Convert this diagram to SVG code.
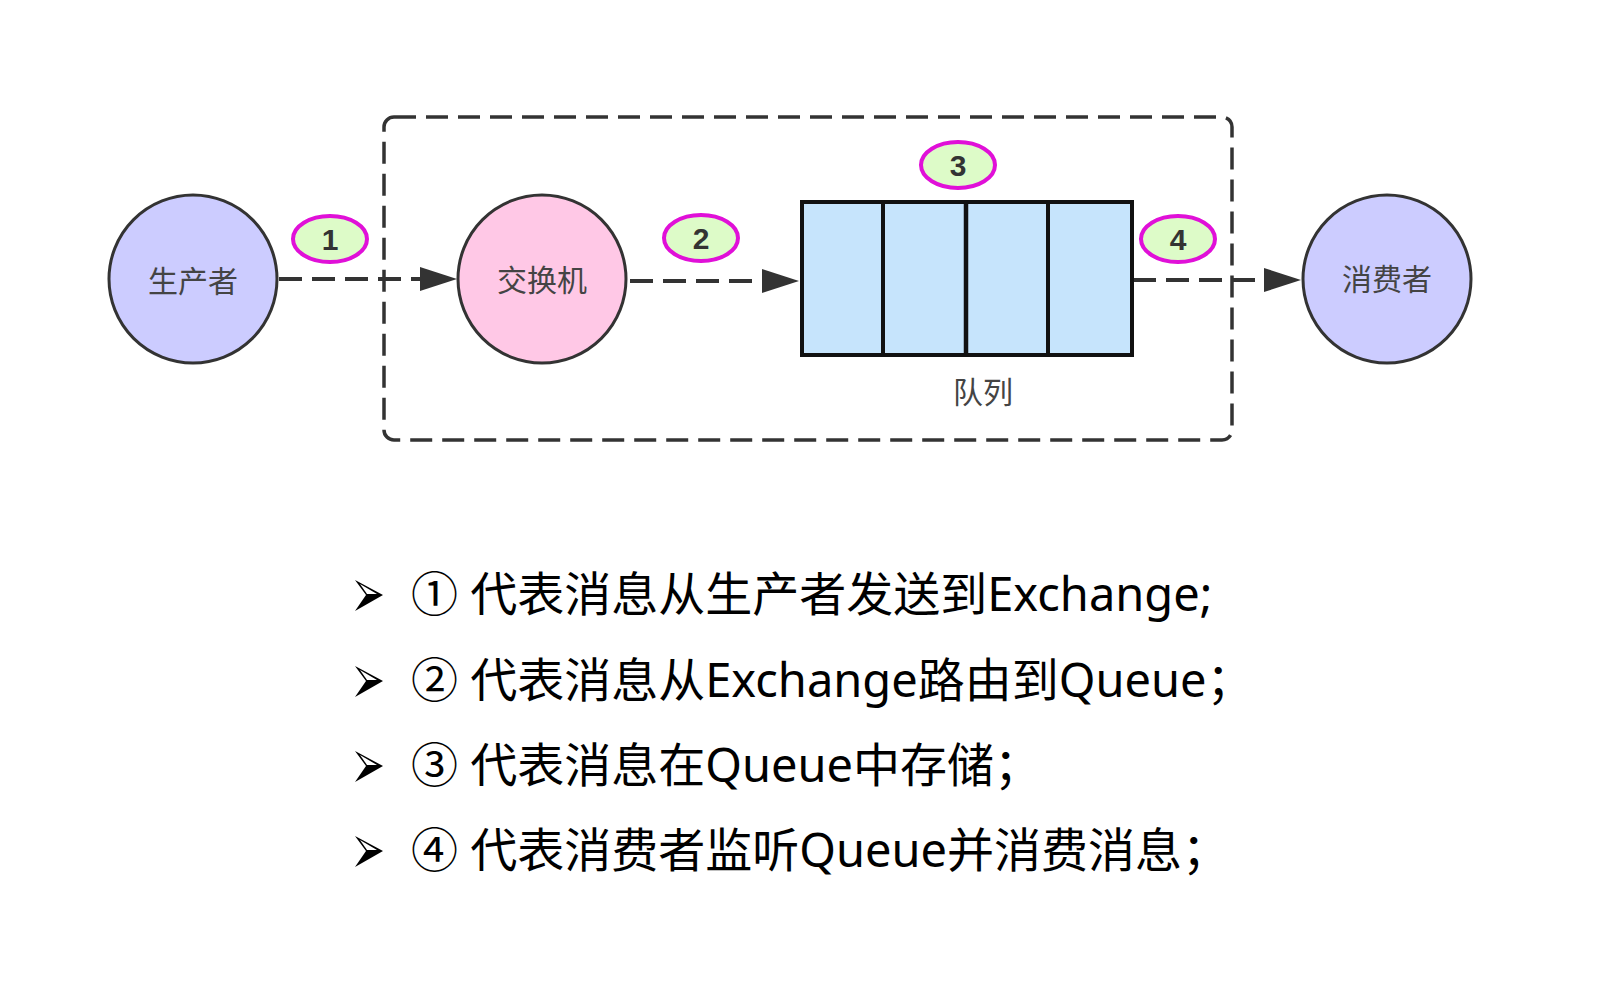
<svg xmlns="http://www.w3.org/2000/svg" width="1612" height="986" viewBox="0 0 1612 986">
<style>
.node{stroke:#333;stroke-width:3}
.lbl{font-family:"Noto Sans CJK SC","Noto Sans",sans-serif;font-size:30px;fill:#444;text-anchor:middle}
.badge{fill:#ddfbc8;stroke:#e010d8;stroke-width:4}
.num{font-family:"Liberation Sans","Noto Sans",sans-serif;font-size:30px;font-weight:bold;fill:#333;text-anchor:middle}
.conn{fill:none;stroke:#333;stroke-width:4;stroke-dasharray:23 10}
.line{font-family:"Noto Sans","Noto Sans CJK SC",sans-serif;font-size:47px;fill:#000}
</style>
<defs>
<marker id="arr" markerUnits="userSpaceOnUse" markerWidth="37" markerHeight="26" refX="0" refY="13" orient="auto" overflow="visible">
<path d="M0,1 L37,13 L0,25 Z" fill="#333"/>
</marker>
<g id="bullet">
<path d="M0,0 L28,15 L0,31 L11,15 Z" fill="#000"/>
<path d="M5,4 L22,14 L12,14 Z" fill="#fff"/>
</g>
</defs>
<rect width="1612" height="986" fill="#fff"/>

<g id="container">
<rect x="384" y="117" width="848" height="323" rx="10" fill="none" stroke="#333" stroke-width="3.5" stroke-dasharray="22 10"/>
</g>

<g id="connectors">
<line class="conn" x1="279" y1="279" x2="420" y2="279" marker-end="url(#arr)"/>
<line class="conn" x1="630" y1="281" x2="762" y2="281" marker-end="url(#arr)"/>
<line class="conn" x1="1133" y1="280" x2="1264" y2="280" marker-end="url(#arr)"/>
</g>

<g id="producer">
<circle class="node" cx="193" cy="279" r="84" fill="#ccccff"/>
<text class="lbl" x="193" y="292">生产者</text>
</g>

<g id="exchange">
<circle class="node" cx="542" cy="279" r="84" fill="#ffc8e6"/>
<text class="lbl" x="542" y="291">交换机</text>
</g>

<g id="queue">
<rect x="802" y="202" width="330" height="153" fill="#c6e4fc" stroke="#111" stroke-width="4"/>
<line x1="883" y1="202" x2="883" y2="355" stroke="#111" stroke-width="4"/>
<line x1="966" y1="202" x2="966" y2="355" stroke="#111" stroke-width="4.5"/>
<line x1="1048" y1="202" x2="1048" y2="355" stroke="#111" stroke-width="4"/>
<text class="lbl" x="983" y="403">队列</text>
</g>

<g id="consumer">
<circle class="node" cx="1387" cy="279" r="84" fill="#ccccff"/>
<text class="lbl" x="1387" y="290">消费者</text>
</g>

<g id="badge1">
<ellipse class="badge" cx="330" cy="239" rx="37" ry="23"/>
<text class="num" x="330" y="250">1</text>
</g>
<g id="badge2">
<ellipse class="badge" cx="701" cy="238" rx="37" ry="23"/>
<text class="num" x="701" y="249">2</text>
</g>
<g id="badge3">
<ellipse class="badge" cx="958" cy="165" rx="37" ry="23"/>
<text class="num" x="958" y="176">3</text>
</g>
<g id="badge4">
<ellipse class="badge" cx="1178" cy="239" rx="37" ry="23"/>
<text class="num" x="1178" y="250">4</text>
</g>

<g id="legend">
<use href="#bullet" x="355" y="580"/>
<use href="#bullet" x="355" y="666"/>
<use href="#bullet" x="355" y="751"/>
<use href="#bullet" x="355" y="836"/>
<text class="line" x="411" y="611">① 代表消息从生产者发送到Exchange;</text>
<text class="line" x="411" y="697">② 代表消息从Exchange路由到Queue；</text>
<text class="line" x="411" y="782">③ 代表消息在Queue中存储；</text>
<text class="line" x="411" y="867">④ 代表消费者监听Queue并消费消息；</text>
</g>
</svg>
